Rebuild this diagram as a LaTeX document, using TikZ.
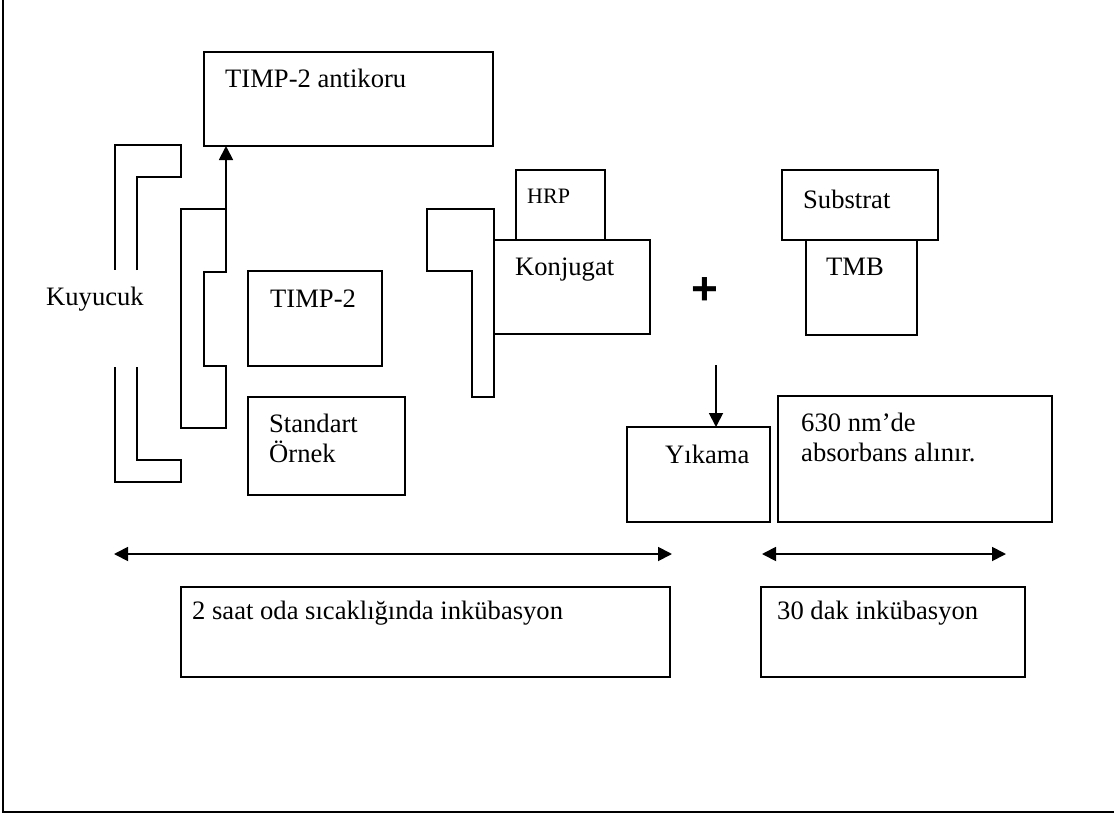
\documentclass[tikz,border=0pt]{standalone}
\usepackage{fontspec}
\setmainfont{Liberation Serif}
\newfontfamily\plusfont{Liberation Sans}
\usetikzlibrary{arrows.meta}
\begin{document}
\begin{tikzpicture}[x=1pt,y=-1pt,
  box/.style={draw, line width=1.8pt, inner sep=0pt, outer sep=0pt, anchor=north west},
  lbl/.style={anchor=base west, inner sep=0pt, font=\fontsize{26.6}{30}\selectfont},
  smalllbl/.style={anchor=base west, inner sep=0pt, font=\fontsize{22}{26}\selectfont},
  wall/.style={line width=1.8pt, line join=miter},
  tip/.style={-{Triangle[length=14pt,width=14pt]}, line width=1.8pt},
  twotip/.style={{Triangle[length=14pt,width=14pt]}-{Triangle[length=14pt,width=14pt]}, line width=1.8pt}]

\useasboundingbox (0,0) rectangle (1114,814);

% frame
\coordinate (ftop) at (3,0);
\coordinate (fcorner) at (3,812);
\coordinate (fright) at (1114,812);
\draw[wall] (ftop) -- (fcorner) -- (fright);

% boxes
\node[box, minimum width=289pt, minimum height=94pt] (anti) at (204,52) {};
\node[box, minimum width=134pt, minimum height=95pt] (timp) at (248,271) {};
\node[box, minimum width=157pt, minimum height=98pt] (std) at (248,397) {};
\node[box, minimum width=89pt, minimum height=70pt] (hrp) at (516,170) {};
\node[box, minimum width=156pt, minimum height=94pt] (konj) at (494,240) {};
\node[box, minimum width=156pt, minimum height=70pt] (subs) at (782,170) {};
\node[box, minimum width=111pt, minimum height=95pt] (tmb) at (806,240) {};
\node[box, minimum width=143pt, minimum height=95pt] (yik) at (627,427) {};
\node[box, minimum width=274pt, minimum height=126pt] (absb) at (778,396) {};
\node[box, minimum width=489pt, minimum height=90pt] (inc2) at (181,587) {};
\node[box, minimum width=264pt, minimum height=90pt] (inc30) at (761,587) {};

% labels
\node[lbl] (tanti) at (225,87) {TIMP-2 antikoru};
\node[lbl] (tkuy) at (46,305) {Kuyucuk};
\node[lbl] (ttimp) at (270,307) {TIMP-2};
\node[lbl] (tstd1) at (269,432) {Standart};
\node[lbl] (tstd2) at (269,462) {Örnek};
\node[smalllbl] (thrp) at (527,203) {HRP};
\node[lbl] (tkonj) at (515,275) {Konjugat};
\node[inner sep=0pt, font=\plusfont\bfseries\fontsize{46}{50}\selectfont] (plus) at (705,291) {+};
\node[lbl] (tsubs) at (803,208) {Substrat};
\node[lbl] (ttmb) at (826,275) {TMB};
\node[lbl] (tyik) at (665,463) {Yıkama};
\node[lbl] (tabs1) at (801,431) {630 nm’de};
\node[lbl] (tabs2) at (801,461) {absorbans alınır.};
\node[lbl] (tinc2) at (192,619) {2 saat oda sıcaklığında inkübasyon};
\node[lbl] (tinc30) at (777,619) {30 dak inkübasyon};

% well (Kuyucuk) walls
\draw[wall] (137,270) -- (137,177) -- (181,177) -- (181,145) -- (115,145) -- (115,270);
\draw[wall] (137,367) -- (137,460) -- (181,460) -- (181,482) -- (115,482) -- (115,367);
% inner well
\draw[wall] (181,209) -- (226,209) -- (226,272) -- (204,272) -- (204,366) -- (226,366) -- (226,428) -- (181,428) -- cycle;
% konjugat well
\draw[wall] (494,209) -- (427,209) -- (427,271) -- (472,271) -- (472,397) -- (494,397) -- cycle;

% arrows
\coordinate (wtop) at (226,209);
\draw[tip] (wtop) -- (wtop |- anti.south);
\coordinate (dstart) at (716,365);
\draw[tip] (dstart) -- (dstart |- yik.north);
\coordinate (a1) at (114,554);
\coordinate (a2) at (672,554);
\draw[twotip] (a1) -- (a2);
\coordinate (b1) at (762,554);
\coordinate (b2) at (1006,554);
\draw[twotip] (b1) -- (b2);
\end{tikzpicture}
\end{document}
